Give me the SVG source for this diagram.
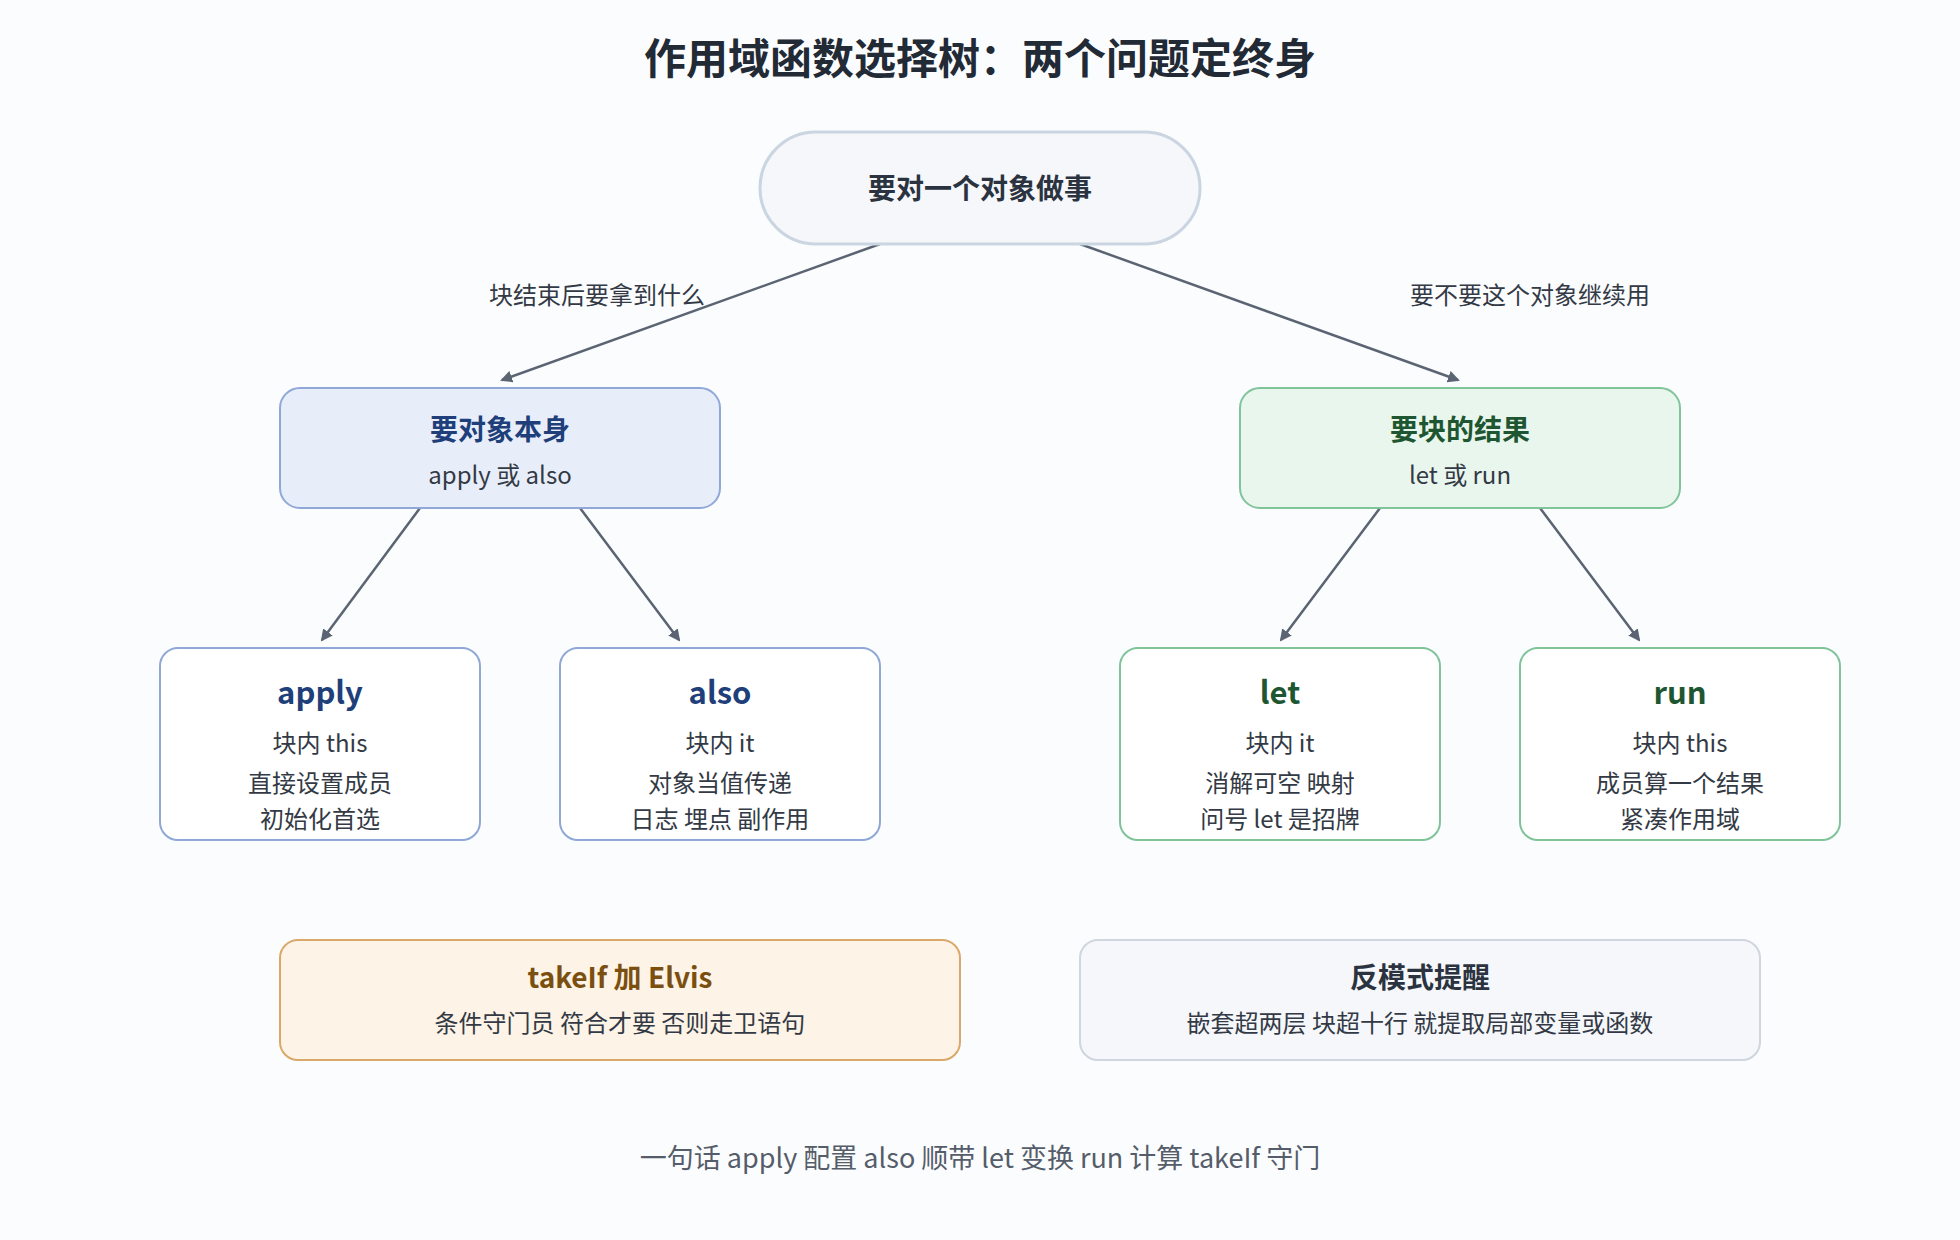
<svg xmlns="http://www.w3.org/2000/svg" width="1960" height="1240" viewBox="0 0 1960 1240">
<defs>
<marker id="ah" markerWidth="12" markerHeight="12" refX="10" refY="6" orient="auto" markerUnits="userSpaceOnUse"><path d="M0,0 L12,6 L0,12 z" fill="#5b6473"/></marker>
<style>
text{font-family:"Noto Sans CJK SC","Noto Sans",sans-serif;text-anchor:middle;fill:#333a45}
.t{font-weight:bold;font-size:28px}
.s{font-size:24px}
.b{fill:#1f3f7a}.g{fill:#1e5631}.o{fill:#7a4f10}.k{fill:#2b3340}
.blue{fill:#e8eef9;stroke:#8fa8d8;stroke-width:2}
.green{fill:#e9f6ed;stroke:#80c49a;stroke-width:2}
.wb{fill:#fff;stroke:#8fa8d8;stroke-width:2}
.wg{fill:#fff;stroke:#80c49a;stroke-width:2}
.e{stroke:#5b6473;stroke-width:2.5;fill:none;marker-end:url(#ah)}
</style>
</defs>
<rect width="1960" height="1240" fill="#fbfcfe"/>
<text x="980" y="74" style="font-size:42px;font-weight:bold;fill:#222a35">作用域函数选择树：两个问题定终身</text>
<g id="edges">
<line class="e" x1="880" y1="244" x2="502" y2="380"/>
<line class="e" x1="1080" y1="244" x2="1458" y2="380"/>
<line class="e" x1="420" y1="508" x2="322" y2="640"/>
<line class="e" x1="580" y1="508" x2="679" y2="640"/>
<line class="e" x1="1380" y1="508" x2="1281" y2="640"/>
<line class="e" x1="1540" y1="508" x2="1639" y2="640"/>
<text x="597" y="304" class="s">块结束后要拿到什么</text>
<text x="1530" y="304" class="s">要不要这个对象继续用</text>
</g>
<g id="root"><rect x="760" y="132" width="440" height="112" rx="56" fill="#f5f7fa" stroke="#cbd5e1" stroke-width="3"/><text x="980" y="199" class="t k">要对一个对象做事</text></g>
<g id="self"><rect x="280" y="388" width="440" height="120" rx="20" class="blue"/><text x="500" y="440" class="t b">要对象本身</text><text x="500" y="484" class="s">apply 或 also</text></g>
<g id="result"><rect x="1240" y="388" width="440" height="120" rx="20" class="green"/><text x="1460" y="440" class="t g">要块的结果</text><text x="1460" y="484" class="s">let 或 run</text></g>
<g id="apply"><rect x="160" y="648" width="320" height="192" rx="18" class="wb"/><text x="320" y="704" class="t b" style="font-size:31px">apply</text><text x="320" y="752" class="s">块内 this</text><text x="320" y="792" class="s">直接设置成员</text><text x="320" y="828" class="s">初始化首选</text></g>
<g id="also"><rect x="560" y="648" width="320" height="192" rx="18" class="wb"/><text x="720" y="704" class="t b" style="font-size:31px">also</text><text x="720" y="752" class="s">块内 it</text><text x="720" y="792" class="s">对象当值传递</text><text x="720" y="828" class="s">日志 埋点 副作用</text></g>
<g id="let"><rect x="1120" y="648" width="320" height="192" rx="18" class="wg"/><text x="1280" y="704" class="t g" style="font-size:31px">let</text><text x="1280" y="752" class="s">块内 it</text><text x="1280" y="792" class="s">消解可空 映射</text><text x="1280" y="828" class="s">问号 let 是招牌</text></g>
<g id="run"><rect x="1520" y="648" width="320" height="192" rx="18" class="wg"/><text x="1680" y="704" class="t g" style="font-size:31px">run</text><text x="1680" y="752" class="s">块内 this</text><text x="1680" y="792" class="s">成员算一个结果</text><text x="1680" y="828" class="s">紧凑作用域</text></g>
<g id="takeif"><rect x="280" y="940" width="680" height="120" rx="18" fill="#fdf3e6" stroke="#d9a86a" stroke-width="2"/><text x="620" y="988" class="t o">takeIf 加 Elvis</text><text x="620" y="1032" class="s">条件守门员 符合才要 否则走卫语句</text></g>
<g id="anti"><rect x="1080" y="940" width="680" height="120" rx="18" fill="#f5f7fa" stroke="#cfd6e0" stroke-width="2"/><text x="1420" y="988" class="t k">反模式提醒</text><text x="1420" y="1032" class="s">嵌套超两层 块超十行 就提取局部变量或函数</text></g>
<text x="980" y="1168" style="font-size:27px;fill:#555d6a">一句话 apply 配置 also 顺带 let 变换 run 计算 takeIf 守门</text>
</svg>
